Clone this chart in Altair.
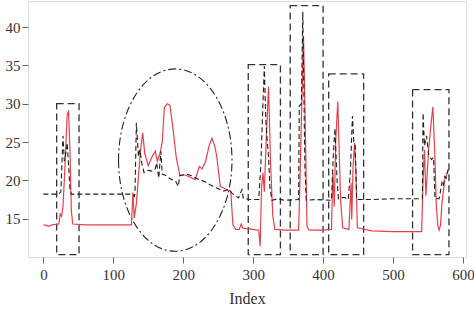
import altair as alt
import pandas as pd

# Red series (solid)
red_x = [0, 5, 8, 12, 22, 24, 26, 28, 31, 34, 36, 38, 40, 42, 60, 100, 126, 128, 130, 133,
         136, 139, 142, 145, 150, 155, 160, 163, 167, 170, 173, 177, 181, 185, 190, 195, 203,
         210, 217, 223, 227, 232, 237, 241, 245, 248, 253, 258, 262, 268, 271, 275, 280, 283,
         285, 290, 300, 308, 310, 312, 314, 316, 319, 322, 325, 328, 331, 345, 365, 367, 369,
         372, 374, 377, 380, 400, 412, 414, 416, 418, 421, 423, 425, 428, 437, 440, 441, 443,
         445, 447, 449, 470, 500, 541, 543, 545, 547, 551, 554, 557, 560, 562, 564, 566, 568,
         570, 574, 579]
red_y = [14.2, 14.1, 14.0, 14.2, 14.3, 15.6, 15.3, 16.5, 22, 28.5, 29.1, 24, 16, 14.3, 14.2,
         14.2, 14.2, 18.4, 15.1, 17, 20.5, 24, 26.2, 23.5, 21.9, 23.0, 23.8, 22.5, 23.6, 25,
         29.5, 30.0, 29.8, 27, 23, 20.7, 20.7, 20.4, 20.1, 21.8, 21.5, 22.5, 24.5, 25.5, 24.5,
         23.1, 19.2, 19.0, 18.8, 18.6, 14.2, 13.6, 13.6, 14.3, 13.8, 13.7, 13.6, 13.5, 11.4,
         19, 21, 18.5, 26, 32.2, 22, 15.5, 13.6, 13.5, 13.5, 20, 28, 38.8, 30, 14.0, 13.5, 13.5,
         13.6, 21, 16.6, 25, 30.3, 24, 17.5, 13.8, 13.6, 19.7, 14.9, 22, 24.9, 21, 13.8, 13.4,
         13.3, 13.3, 20, 24, 18, 24, 27, 29.6, 23, 16.6, 14.2, 13.5, 14.2, 17.0, 20.1, 21.4]

# Black series (dashed)
blk_x = [0, 22, 25, 28, 30, 32, 34, 36, 38, 40, 128, 130, 131, 133, 136, 138, 141, 144, 150,
         156, 160, 162, 165, 168, 170, 174, 181, 189, 193, 195, 205, 212, 220, 229, 239, 248,
         258, 265, 270, 279, 284, 286, 296, 308, 311, 314, 316, 318, 320, 322, 324, 327, 335,
         345, 365, 366, 369, 371, 374, 376, 390, 412, 415, 417, 420, 422, 430, 436, 439, 442,
         444, 446, 448, 470, 500, 542, 543, 545, 548, 551, 555, 558, 560, 566, 570, 572, 574,
         576, 579]
blk_y = [18.2, 18.2, 18.5, 25.8, 22.5, 23.5, 24.9, 22, 18.8, 18.2, 18.2, 17.9, 18.3, 27.5,
         23.1, 24.0, 22.1, 21.0, 21.3, 21.2, 21.5, 22.3, 20.3, 23.8, 20.8, 20.7, 20.2, 19.9,
         19.2, 20.6, 20.8, 20.6, 20.2, 19.9, 19.4, 19.0, 18.6, 18.8, 18.3, 17.7, 18.8, 17.6,
         17.5, 17.5, 22, 30, 34.9, 28, 25.3, 23.1, 19, 17.4, 17.6, 17.4, 17.5, 29.7, 30, 42.0,
         21.8, 17.4, 17.5, 17.4, 24.0, 26.8, 20, 17.6, 17.8, 17.5, 21.0, 28.4, 24.9, 24.5,
         17.5, 17.5, 17.6, 17.6, 28.8, 24.5, 25.8, 23.4, 22.7, 23, 17.6, 17.6, 19.7, 19.2,
         20.5, 20.3, 21.4]

# Dashed boxes
box_x1 = [19, 293, 353, 408, 528]
box_x2 = [51, 339, 400, 458, 580]
box_y1 = [10.3, 10.3, 10.3, 10.3, 10.3]
box_y2 = [30.0, 35.1, 42.8, 33.9, 31.85]

# Ellipse annotation (center)
ell_x = [188.6]
ell_y = [22.64]

x_ticks = [0, 100, 200, 300, 400, 500, 600]
y_ticks = [15, 20, 25, 30, 35, 40]

red_df = pd.DataFrame({"x": red_x, "y": red_y})
blk_df = pd.DataFrame({"x": blk_x, "y": blk_y})
box_df = pd.DataFrame({"x1": box_x1, "x2": box_x2, "y1": box_y1, "y2": box_y2})
ell_df = pd.DataFrame({"x": ell_x, "y": ell_y})

FONT = "Liberation Serif"
xs = alt.Scale(domain=[-22, 604.4], nice=False, zero=False)
ys = alt.Scale(domain=[10.0, 43.4], nice=False, zero=False)

xaxis = alt.Axis(values=x_ticks, title="Index", grid=False, domain=False, tickSize=6,
                 tickColor="#666", labelFont=FONT, labelFontSize=15, labelColor="#333",
                 labelPadding=4, titleFont=FONT, titleFontSize=16, titleFontWeight="normal",
                 titleColor="#333", titlePadding=8)
yaxis = alt.Axis(values=y_ticks, title=None, grid=False, domain=False, tickSize=6,
                 tickColor="#666", labelFont=FONT, labelFontSize=15, labelColor="#333",
                 labelPadding=2)

red = alt.Chart(red_df).mark_line(color="#e5414a", strokeWidth=1.2).encode(
    x=alt.X("x:Q", scale=xs, axis=xaxis), y=alt.Y("y:Q", scale=ys, axis=yaxis))
blk = alt.Chart(blk_df).mark_line(color="#1e1e1e", strokeWidth=1.1, strokeDash=[5, 3]).encode(
    x=alt.X("x:Q", scale=xs), y=alt.Y("y:Q", scale=ys))
boxes = alt.Chart(box_df).mark_rect(fill=None, fillOpacity=0, stroke="#333", strokeWidth=1.3,
                                    strokeDash=[7, 4]).encode(
    x=alt.X("x1:Q", scale=xs), x2="x2:Q", y=alt.Y("y1:Q", scale=ys), y2="y2:Q")
ell = alt.Chart(ell_df).mark_point(
    shape="M -0.622 0 A 0.622 1 0 1 0 0.622 0 A 0.622 1 0 1 0 -0.622 0",
    size=33269, filled=False, stroke="#222", strokeWidth=1.1, opacity=1,
    strokeDash=[8, 3, 2, 3]).encode(
    x=alt.X("x:Q", scale=xs), y=alt.Y("y:Q", scale=ys))

chart = alt.layer(ell, boxes, red, blk).properties(
    width=438, height=256,
    autosize=alt.AutoSizeParams(type="none"),
    padding={"left": 28, "top": 1, "right": 8, "bottom": 54},
).configure_view(stroke="#666", strokeWidth=1).configure(background="white")

chart.save("out.html", embed_options={"renderer": "svg", "actions": False})
